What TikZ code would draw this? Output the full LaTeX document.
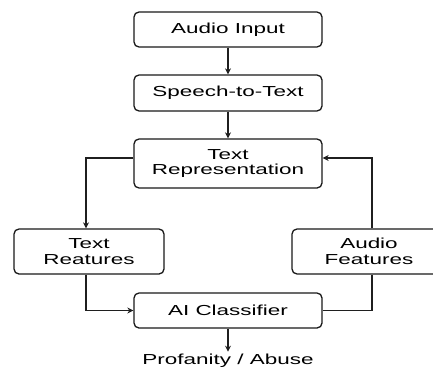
\documentclass[tikz,border=0pt]{standalone}
\usepackage{fontspec}
\setmainfont{Liberation Sans}[FakeStretch=1.55]
\usetikzlibrary{arrows.meta}
\begin{document}
\begin{tikzpicture}[x=1pt,y=-1pt,
  box/.style={draw=black!90, line width=1.3pt, rounded corners=5pt, fill=white,
    minimum width=#1, inner sep=0pt, align=center,
    font=\fontsize{14.5}{15.5}\selectfont},
  conn/.style={draw=black!88, line width=1.2pt},
  arr/.style={conn, -{Stealth[length=6pt,width=6pt]}}]
\useasboundingbox (0,0) rectangle (433,369);
\fill[white] (0,0) rectangle (433,369);
\node[box=188pt, minimum height=35pt] (ai) at (228,29.5) {Audio Input};
\node[box=188pt, minimum height=36pt] (st) at (228,93) {Speech-to-Text};
\node[box=188pt, minimum height=49pt] (tr) at (228,163.5) {Text\\Representation};
\node[box=150pt, minimum height=45pt] (tf) at (89,251.5) {Text\\Reatures};
\node[box=154pt, minimum height=45pt] (af) at (369,251.5) {Audio\\Features};
\node[box=188pt, minimum height=35pt] (cl) at (228,310.5) {AI Classifier};
\node[font=\fontsize{14.5}{15.5}\selectfont, inner sep=0pt] (out) at (228,361) {Profanity / Abuse};
\coordinate (lt) at (86,158);
\coordinate (rt) at (372,158);
\coordinate (lb) at (86,310.5);
\coordinate (rb) at (372,310.5);
\draw[arr] (ai) -- (st);
\draw[arr] (st) -- (tr);
\draw[arr] (tr.west |- lt) -- (lt) -- (lt |- tf.north);
\draw[arr] (rt |- af.north) -- (rt) -- (tr.east |- rt);
\draw[arr] (lb |- tf.south) -- (lb) -- (cl.west);
\draw[conn] (rb |- af.south) -- (rb) -- (cl.east);
\draw[arr] (cl.south) -- ++(0,23) coordinate (tip);
\end{tikzpicture}
\end{document}
